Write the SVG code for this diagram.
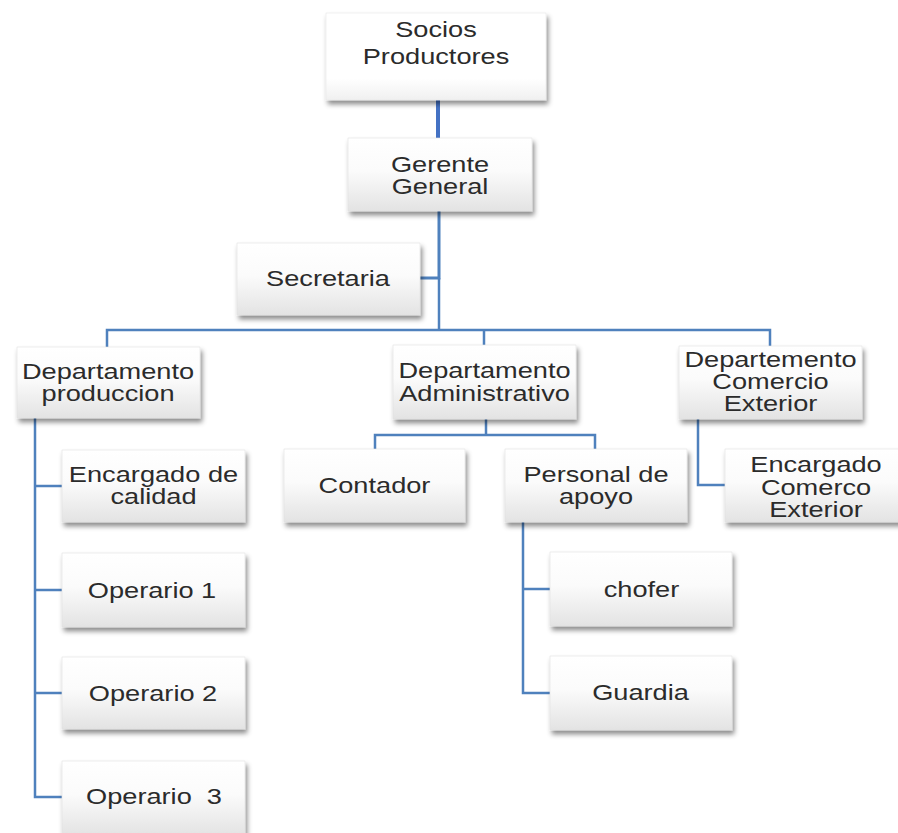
<svg xmlns="http://www.w3.org/2000/svg" width="898" height="833" viewBox="0 0 898 833">
<defs>
<linearGradient id="g" x1="0" y1="0" x2="0" y2="1">
<stop offset="0" stop-color="#ffffff"/>
<stop offset="0.45" stop-color="#fbfbfb"/>
<stop offset="1" stop-color="#e3e3e3"/>
</linearGradient>
<linearGradient id="gw" x1="0" y1="0" x2="0" y2="1">
<stop offset="0" stop-color="#ffffff"/>
<stop offset="0.75" stop-color="#ffffff"/>
<stop offset="1" stop-color="#f0f0f0"/>
</linearGradient>
<filter id="sh" x="-10%" y="-10%" width="125%" height="135%">
<feDropShadow dx="2" dy="4" stdDeviation="2.5" flood-color="#000" flood-opacity="0.45"/>
</filter>
</defs>
<style>
.box{fill:url(#g);stroke:#e2e2e2;stroke-width:0.6;filter:url(#sh)}
.boxw{fill:url(#gw);stroke:#e6e6e6;stroke-width:0.6;filter:url(#sh)}
.t{font-family:"Liberation Sans",Arial,sans-serif;font-size:21.5px;fill:#2b2b2b;text-anchor:middle}
.c{fill:none;stroke:#4F81BD;stroke-width:2.5}
</style>
<rect width="898" height="833" fill="#ffffff"/>
<g id="connectors">
<path d="M438,100 V138" fill="none" stroke="#4472C4" stroke-width="4"/>
<path d="M439,211 V278 H420" fill="none" stroke="#4F81BD" stroke-width="3"/>
<path class="c" d="M439,278 V330"/>
<path class="c" d="M107,347 V330 H770 V346"/>
<path class="c" d="M484,330 V345"/>
<path class="c" d="M486,419 V435"/>
<path class="c" d="M375,449 V435 H595 V449"/>
<path class="c" d="M35,418 V797 H62 M35,486 H62 M35,590 H62 M35,693 H62"/>
<path class="c" d="M523,522 V693 H550 M523,589 H550"/>
<path class="c" d="M698,419 V485 H725"/>
</g>
<g id="socios">
<rect class="boxw" x="326" y="13" width="220" height="87"/>
<text class="t" transform="translate(436,0) scale(1.265,1)"><tspan x="0" y="37">Socios</tspan><tspan x="0" y="64">Productores</tspan></text>
</g>
<g id="gerente">
<rect class="box" x="348" y="138" width="184" height="73"/>
<text class="t" transform="translate(440,0) scale(1.265,1)"><tspan x="0" y="172">Gerente</tspan><tspan x="0" y="194">General</tspan></text>
</g>
<g id="secretaria">
<rect class="box" x="237" y="243" width="183" height="72"/>
<text class="t" transform="translate(328,0) scale(1.265,1)"><tspan x="0" y="286">Secretaria</tspan></text>
</g>
<g id="dep-produccion">
<rect class="box" x="17" y="347" width="183" height="71"/>
<text class="t" transform="translate(108,0) scale(1.265,1)"><tspan x="0" y="379">Departamento</tspan><tspan x="0" y="401">produccion</tspan></text>
</g>
<g id="enc-calidad">
<rect class="box" x="62" y="450" width="183" height="72"/>
<text class="t" transform="translate(153.5,0) scale(1.265,1)"><tspan x="0" y="482">Encargado de</tspan><tspan x="0" y="504">calidad</tspan></text>
</g>
<g id="operario1">
<rect class="box" x="62" y="553" width="183" height="74"/>
<text class="t" transform="translate(152,0) scale(1.265,1)"><tspan x="0" y="598">Operario 1</tspan></text>
</g>
<g id="operario2">
<rect class="box" x="62" y="657" width="183" height="72"/>
<text class="t" transform="translate(153,0) scale(1.265,1)"><tspan x="0" y="701">Operario 2</tspan></text>
</g>
<g id="operario3">
<rect class="box" x="62" y="761" width="183" height="74"/>
<text class="t" transform="translate(154,0) scale(1.265,1)" xml:space="preserve"><tspan x="0" y="804">Operario  3</tspan></text>
</g>
<g id="dep-administrativo">
<rect class="box" x="393" y="345" width="183" height="74"/>
<text class="t" transform="translate(484.5,0) scale(1.265,1)"><tspan x="0" y="378">Departamento</tspan><tspan x="0" y="401">Administrativo</tspan></text>
</g>
<g id="contador">
<rect class="box" x="284" y="449" width="181" height="73"/>
<text class="t" transform="translate(374.5,0) scale(1.265,1)"><tspan x="0" y="493">Contador</tspan></text>
</g>
<g id="personal-apoyo">
<rect class="box" x="505" y="449" width="182" height="73"/>
<text class="t" transform="translate(596,0) scale(1.265,1)"><tspan x="0" y="482">Personal de</tspan><tspan x="0" y="504">apoyo</tspan></text>
</g>
<g id="chofer">
<rect class="box" x="550" y="552" width="182" height="74"/>
<text class="t" transform="translate(641.5,0) scale(1.265,1)"><tspan x="0" y="597">chofer</tspan></text>
</g>
<g id="guardia">
<rect class="box" x="550" y="656" width="182" height="74"/>
<text class="t" transform="translate(640.5,0) scale(1.265,1)"><tspan x="0" y="700">Guardia</tspan></text>
</g>
<g id="dep-comercio">
<rect class="box" x="679" y="346" width="183" height="73"/>
<text class="t" transform="translate(770.5,0) scale(1.265,1)"><tspan x="0" y="367">Departemento</tspan><tspan x="0" y="389">Comercio</tspan><tspan x="0" y="411">Exterior</tspan></text>
</g>
<g id="enc-comercio">
<rect class="box" x="725" y="449" width="183" height="73"/>
<text class="t" transform="translate(816,0) scale(1.265,1)"><tspan x="0" y="472">Encargado</tspan><tspan x="0" y="495">Comerco</tspan><tspan x="0" y="517">Exterior</tspan></text>
</g>
</svg>
